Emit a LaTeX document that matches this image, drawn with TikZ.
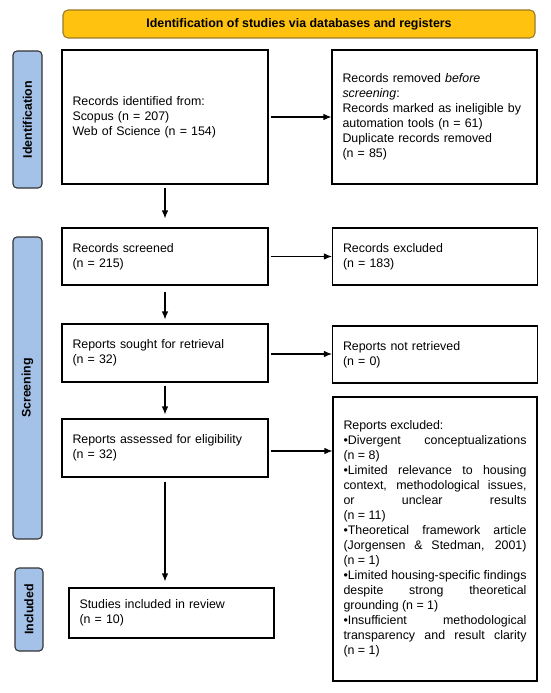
\documentclass[tikz,border=0pt]{standalone}
\usepackage{fontspec}
\setmainfont{Liberation Sans}
\usetikzlibrary{arrows.meta}
\definecolor{bannerfill}{HTML}{FFC20E}
\definecolor{bannerdraw}{HTML}{9C7A2A}
\definecolor{labelfill}{HTML}{A4C2E8}
\definecolor{labeldraw}{HTML}{333333}
\newcommand{\boxfont}{\fontsize{12.4}{15}\selectfont}
\begin{document}
\begin{tikzpicture}[x=1pt,y=-1pt,
  box/.style={draw, line width=1.1pt, inner xsep=10.5pt, inner ysep=0pt, align=left, font=\boxfont, anchor=center},
  lab/.style={draw=labeldraw, fill=labelfill, line width=1.1pt, rounded corners=4pt, rotate=90, minimum height=29pt, inner sep=0pt, font=\bfseries\boxfont},
  banner/.style={draw=bannerdraw, fill=bannerfill, line width=1.1pt, rounded corners=5pt, minimum width=472pt, minimum height=28pt, inner sep=0pt, font=\bfseries\boxfont},
  arr/.style={line width=1.1pt, -{Latex[length=8pt,width=6.5pt]}}]
\useasboundingbox (0,0) rectangle (550,693);
\fill[white] (0,0) rectangle (550,693);

\node[banner] (ban) at (299,24) {Identification of studies via databases and registers};

\node[lab, minimum width=137pt] (lid) at (27.5,119.5) {Identification};
\node[lab, minimum width=302pt] (lsc) at (27.5,388) {Screening};
\node[lab, minimum width=83pt, minimum height=28pt] (lin) at (29,609.5) {Included};

\node[box, text width=185pt, minimum height=134pt] (b1) at (165,117)
  {Records identified from:\\Scopus (n = 207)\\Web of Science (n = 154)};
\node[box, text width=184pt, minimum height=134pt] (rem) at (434.5,117)
  {Records removed \textit{before}\\\textit{screening}:\\Records marked as ineligible by\\automation tools (n = 61)\\Duplicate records removed\\(n = 85)};

\node[box, text width=185pt, minimum height=57pt] (scr) at (165,256.5)
  {Records screened\\(n = 215)};
\node[box, text width=184pt, minimum height=57pt] (exc) at (435,256.5)
  {Records excluded\\(n = 183)};

\node[box, text width=185pt, minimum height=58pt] (sou) at (165,353)
  {Reports sought for retrieval\\(n = 32)};
\node[box, text width=184pt, minimum height=57pt] (nr) at (435,354.5)
  {Reports not retrieved\\(n = 0)};

\node[box, text width=185pt, minimum height=58pt] (ass) at (165,448)
  {Reports assessed for eligibility\\(n = 32)};
\node[draw, line width=1.1pt, inner xsep=10.5pt, inner ysep=0pt, minimum width=204pt, minimum height=284pt, font=\boxfont] (rex) at (435,539)
  {\parbox{183pt}{\boxfont\tolerance=10000\hbadness=10000\hyphenpenalty=10000\exhyphenpenalty=10000
  Reports excluded:\par
  •Divergent conceptualizations\linebreak (n = 8)\par
  •Limited relevance to housing\linebreak context, methodological issues,\linebreak or unclear results\linebreak (n = 11)\par
  •Theoretical framework article\linebreak (Jorgensen \& Stedman, 2001)\linebreak (n = 1)\par
  •Limited housing-specific findings\linebreak despite strong theoretical\linebreak grounding (n = 1)\par
  •Insufficient methodological\linebreak transparency and result clarity\linebreak (n = 1)}};

\node[box, text width=184pt, minimum height=50pt] (stu) at (171.5,613)
  {Studies included in review\\(n = 10)};

\draw[arr] ([xshift=2pt]b1.east) -- (rem.west);
\draw[arr] ([xshift=2pt]scr.east) -- (exc.west);
\path ([xshift=2pt,yshift=-1pt]sou.east) coordinate (s3);
\draw[arr] (s3) -- (s3 -| nr.west);
\path ([xshift=2pt,yshift=-3pt]ass.east) coordinate (s4);
\draw[arr] (s4) -- (s4 -| rex.west);

\draw[arr, shorten <=3pt, shorten >=9pt] (b1.south) -- (scr.north);
\draw[arr, shorten <=6pt, shorten >=4pt] (scr.south) -- (sou.north);
\draw[arr, shorten <=3pt, shorten >=4pt] (sou.south) -- (ass.north);
\draw[arr, shorten <=4pt, shorten >=6pt] (ass.south) -- (ass.south |- stu.north);
\end{tikzpicture}
\end{document}
